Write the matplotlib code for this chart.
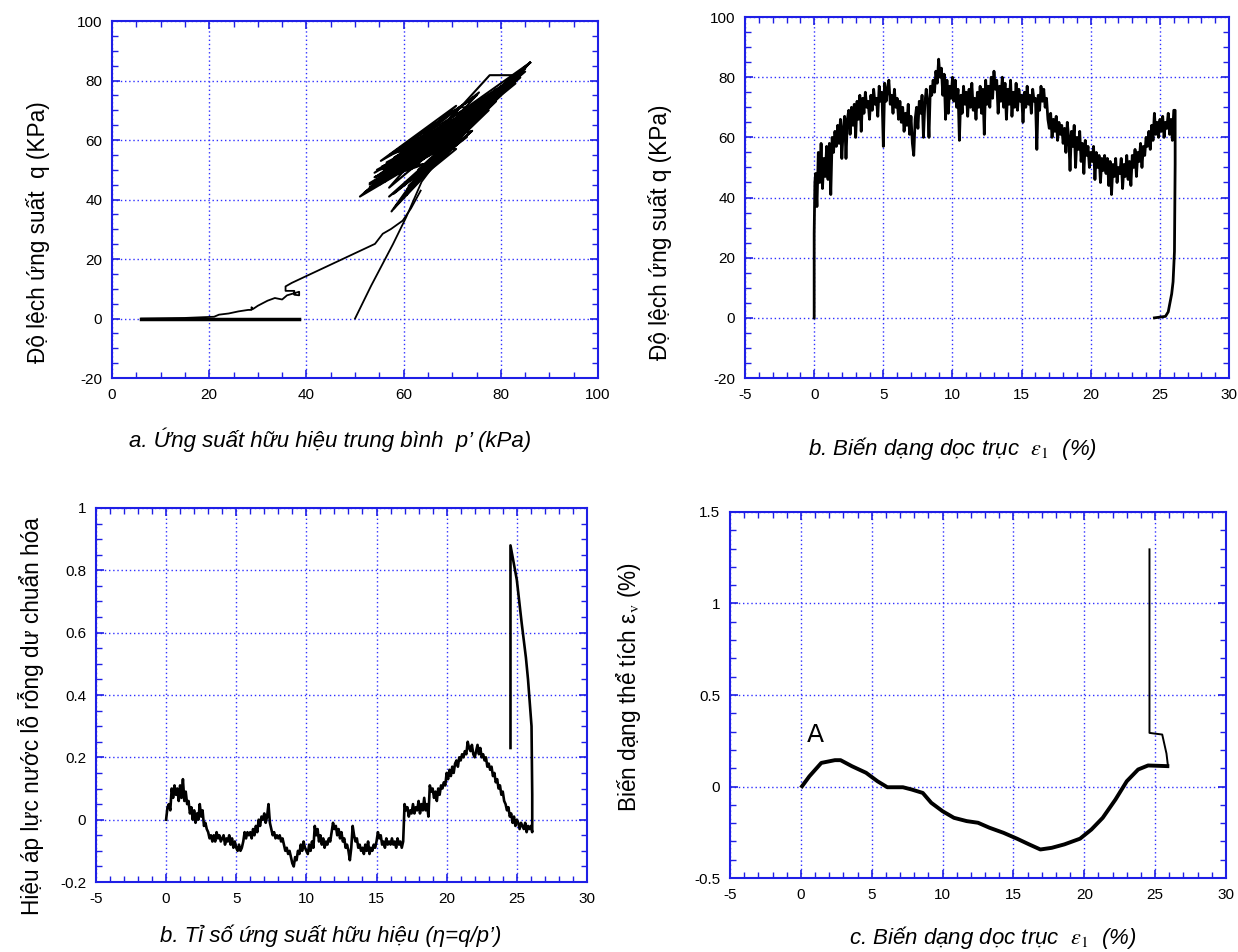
"""
Triaxial test results: stress path, deviator stress, pore pressure ratio
and volumetric strain against axial strain (values read off the figure).
"""

import numpy as np
import matplotlib.pyplot as plt
from matplotlib.ticker import MultipleLocator, FormatStrFormatter

plt.rcParams["font.family"] = ["Liberation Sans", "DejaVu Sans"]
plt.rcParams["axes.unicode_minus"] = False
plt.rcParams["mathtext.fontset"] = "stix"

FRAME_BLUE = "#1f1fe6"
GRID_BLUE = "#3030ff"

# ---- panel a: stress path q - p'
p_consol = [6.0, 38.5]
q_consol = [0.0, 0.0]

p_path = [6.0, 15.0, 21.0, 22.0, 24.0, 26.0, 28.0, 28.7, 28.7, 29.0, 30.0,
          32.0, 33.5, 35.0, 36.0, 38.5, 38.5, 37.5, 37.5, 35.7, 35.7, 37.0,
          54.1, 55.7, 57.4, 59.8, 61.5, 63.5]
q_path = [0.0, 0.2, 0.6, 1.3, 1.7, 2.4, 2.9, 2.9, 3.8, 3.2, 4.3,
          6.0, 6.9, 6.4, 7.8, 9.0, 7.8, 8.0, 9.3, 9.3, 10.8, 12.0,
          25.1, 28.5, 30.1, 32.9, 37.0, 43.0]

p_load = [50.0, 53.3, 57.8, 60.5, 63.7, 66.0]
q_load = [0.0, 11.0, 25.0, 34.0, 46.0, 51.0]

# cyclic part, first series of loops
p_cyc = [66.0, 72.0, 60.5, 76.0, 56.0, 80.0, 62.0, 84.0, 70.0, 86.0, 66.0,
         74.0, 58.5, 78.0, 55.0, 71.0, 52.0, 69.0, 57.5, 81.0, 70.0,
         77.7, 82.5, 73.5, 58.0, 67.0, 54.5, 75.0, 60.0, 82.5, 67.5,
         79.0, 57.0, 71.5, 74.5, 63.5, 51.0, 65.5, 56.5, 76.5, 61.0,
         85.0, 72.5, 58.0, 80.5, 68.5, 57.5, 64.5, 53.0, 70.0, 59.0,
         83.0, 74.0, 55.5, 73.0, 60.5, 68.0, 56.0, 79.5, 62.5, 77.0,
         65.0, 84.5, 71.0, 54.0, 66.5, 59.5, 81.5, 69.5, 86.0]
q_cyc = [51.0, 63.5, 50.0, 70.5, 46.0, 76.0, 52.0, 82.0, 61.0, 86.0, 58.5,
         66.5, 49.5, 73.5, 48.5, 64.0, 42.5, 59.0, 53.0, 77.0, 68.0,
         81.8, 81.8, 68.0, 37.0, 52.5, 50.0, 68.0, 54.5, 79.0, 60.5,
         74.0, 44.0, 71.0, 71.0, 58.5, 41.0, 55.0, 52.5, 70.0, 51.5,
         84.0, 64.5, 55.5, 78.5, 58.5, 36.0, 52.0, 45.5, 62.5, 53.0,
         80.5, 67.0, 51.0, 65.5, 41.5, 56.5, 49.5, 75.0, 57.0, 71.0,
         56.0, 83.0, 62.0, 47.5, 57.5, 55.5, 78.0, 62.5, 86.0]

# cyclic part, second series of loops
p_cyc2 = [86.0, 60.0, 82.0, 58.0, 84.0, 62.0, 79.0, 56.0, 76.0, 54.0, 81.0,
          60.0, 85.0, 64.0, 78.0, 57.0, 83.0, 61.0, 80.0, 59.0, 75.0, 53.0,
          77.0, 62.0, 84.0, 66.0, 80.0, 57.0, 74.0, 55.0, 72.0, 58.0, 82.0,
          63.0, 78.0, 56.0, 85.0, 67.0, 81.0, 60.0, 76.0, 59.0, 83.0, 65.0,
          79.0, 58.0, 73.0, 54.0, 86.0]
q_cyc2 = [86.0, 50.0, 79.0, 54.0, 81.0, 51.0, 76.0, 50.0, 72.0, 46.0, 77.0,
          55.0, 83.0, 54.0, 75.0, 47.0, 80.0, 56.0, 78.0, 49.0, 70.0, 44.0,
          73.0, 57.0, 82.0, 56.0, 75.0, 51.0, 68.0, 45.0, 66.0, 53.0, 80.0,
          53.0, 72.0, 48.0, 84.0, 60.0, 78.0, 51.0, 71.0, 56.0, 79.0, 55.0,
          77.0, 48.0, 67.0, 49.0, 86.0]

# cyclic part, third series (fills the lower side of the band)
p_cyc3 = [86.0, 64.0, 80.9, 60.7, 77.5, 58.0, 74.1, 62.0, 84.9, 66.0, 78.0,
          59.0, 75.0, 56.0, 72.0, 62.0, 81.0, 65.0, 70.8, 64.0, 74.0, 60.7,
          75.0, 57.3, 67.4, 55.3, 70.8, 64.0, 75.5, 65.0, 84.0, 61.0, 79.0,
          57.0, 73.0, 63.0, 82.0, 60.0, 76.0, 53.0, 69.0, 58.0, 80.0, 66.0,
          86.0]
q_cyc3 = [86.0, 48.0, 76.6, 43.5, 70.0, 42.0, 63.1, 46.0, 84.5, 51.0, 74.0,
          51.0, 70.0, 48.0, 66.0, 54.0, 78.0, 57.0, 57.0, 48.0, 63.0, 58.6,
          75.0, 55.2, 64.2, 53.0, 71.5, 61.4, 76.0, 57.0, 82.0, 44.5, 73.0,
          41.0, 61.0, 50.0, 79.0, 52.0, 72.0, 45.0, 58.0, 50.0, 77.0, 56.0,
          86.0]

# ---- panel b: deviator stress q vs axial strain (0.1 % steps from 0.1 to 26.0)
eps_b_start = [0.0, 0.0, 0.05]
q_b_start = [0.0, 28.0, 45.0]
q_dev = [
    48, 37, 55, 45, 58, 43, 53, 47, 57, 46,
    58, 41, 60, 55, 62, 57, 64, 58, 66, 53,
    63, 67, 53, 66, 69, 61, 70, 64, 71, 60,
    72, 66, 74, 62, 73, 68, 75, 70, 72, 66,
    74, 69, 76, 71, 73, 67, 77, 72, 75, 57,
    78, 72, 76, 79, 71, 74, 68, 76, 70, 73,
    66, 72, 65, 70, 62, 68, 64, 71, 61, 67,
    58, 54, 66, 70, 63, 72, 68, 74, 60, 71,
    76, 72, 60, 77, 74, 79, 75, 82, 78, 86,
    80, 83, 74, 81, 66, 79, 68, 77, 73, 80,
    72, 79, 70, 76, 59, 74, 68, 77, 71, 75,
    67, 76, 70, 78, 69, 73, 66, 75, 70, 77,
    68, 76, 61, 79, 71, 77, 70, 80, 73, 82,
    76, 79, 68, 77, 72, 80, 70, 78, 66, 76,
    71, 79, 67, 75, 70, 78, 69, 76, 72, 74,
    65, 75, 70, 77, 71, 74, 68, 76, 72, 73,
    56, 74, 69, 77, 72, 76, 70, 73, 66, 63,
    68, 60, 66, 62, 67, 59, 65, 61, 64, 58,
    63, 55, 65, 60, 49, 62, 57, 64, 50, 60,
    56, 62, 52, 58, 48, 59, 54, 57, 50, 55,
    52, 57, 46, 55, 50, 54, 45, 53, 49, 54,
    48, 53, 44, 52, 41, 51, 47, 53, 45, 50,
    48, 53, 43, 51, 47, 54, 46, 52, 44, 54,
    50, 56, 47, 55, 52, 58, 50, 57, 54, 60,
    57, 62, 56, 64, 59, 68, 61, 65, 60, 66,
    62, 67, 60, 65, 63, 68, 61, 66, 59, 69,
]
eps_b_end = [26.1, 26.1, 26.05, 25.95, 25.85, 25.6, 25.4, 24.6]
q_b_end = [69.0, 51.0, 22.0, 12.0, 8.0, 2.0, 0.5, 0.0]

# ---- panel c: normalised excess pore pressure (0.1 % steps from 0.0 to 26.1)
ru = [
    0.00, 0.04, 0.05, 0.03, 0.10, 0.07, 0.11, 0.08, 0.10, 0.06,
    0.11, 0.07, 0.13, 0.06, 0.09, 0.05, 0.06, 0.02, 0.04, 0.00,
    0.03, -0.01, 0.02, 0.00, 0.05, 0.01, 0.03, -0.02, -0.01, -0.03,
    -0.04, -0.06, -0.05, -0.07, -0.05, -0.07, -0.04, -0.06, -0.05, -0.07,
    -0.06, -0.05, -0.08, -0.06, -0.07, -0.05, -0.08, -0.06, -0.09, -0.07,
    -0.09, -0.10, -0.08, -0.10, -0.09, -0.07, -0.04, -0.06, -0.04, -0.05,
    -0.04, -0.06, -0.03, -0.05, -0.02, -0.04, 0.00, -0.02, 0.01, 0.00,
    0.02, -0.01, 0.01, 0.05, -0.01, -0.03, -0.05, -0.04, -0.06, -0.05,
    -0.06, -0.05, -0.07, -0.06, -0.08, -0.10, -0.09, -0.11, -0.10, -0.12,
    -0.14, -0.15, -0.12, -0.13, -0.10, -0.11, -0.08, -0.10, -0.07, -0.09,
    -0.10, -0.11, -0.08, -0.10, -0.07, -0.09, -0.02, -0.05, -0.03, -0.07,
    -0.05, -0.08, -0.06, -0.09, -0.07, -0.08, -0.06, -0.07, -0.04, -0.01,
    -0.03, -0.02, -0.05, -0.03, -0.06, -0.04, -0.07, -0.06, -0.09, -0.08,
    -0.10, -0.13, -0.09, -0.02, -0.05, -0.07, -0.06, -0.09, -0.08, -0.10,
    -0.09, -0.11, -0.08, -0.10, -0.07, -0.11, -0.09, -0.10, -0.08, -0.09,
    -0.07, -0.04, -0.06, -0.05, -0.08, -0.07, -0.09, -0.06, -0.08, -0.07,
    -0.08, -0.06, -0.08, -0.07, -0.09, -0.06, -0.08, -0.07, -0.09, -0.07,
    0.05, 0.03, 0.04, 0.01, 0.03, 0.02, 0.05, 0.02, 0.04, 0.03,
    0.06, 0.02, 0.05, 0.03, 0.07, 0.03, 0.05, 0.01, 0.11, 0.09,
    0.10, 0.07, 0.09, 0.06, 0.10, 0.08, 0.11, 0.10, 0.12, 0.11,
    0.15, 0.13, 0.16, 0.14, 0.17, 0.15, 0.18, 0.19, 0.17, 0.20,
    0.19, 0.21, 0.20, 0.22, 0.21, 0.25, 0.23, 0.22, 0.24, 0.21,
    0.20, 0.22, 0.24, 0.21, 0.23, 0.20, 0.21, 0.19, 0.20, 0.17,
    0.18, 0.16, 0.17, 0.14, 0.15, 0.12, 0.13, 0.10, 0.11, 0.08,
    0.09, 0.06, 0.05, 0.03, 0.04, 0.01, 0.02, -0.01, 0.01, -0.02,
    0.00, -0.01, -0.03, -0.01, -0.02, -0.03, -0.01, -0.04, -0.02, -0.03,
    -0.02, -0.04,
]
eps_c_end = [26.1, 26.05, 25.95, 25.8, 25.65, 25.35, 25.0, 24.55, 24.55]
ru_end = [0.08, 0.30, 0.36, 0.45, 0.52, 0.63, 0.77, 0.88, 0.23]

# ---- panel d: volumetric strain
eps_d = [0.0, 0.6, 1.44, 2.4, 2.8, 3.6, 4.6, 5.4, 6.1, 7.2, 7.8, 8.6, 9.2,
         10.0, 10.8, 11.7, 12.5, 13.3, 14.3, 15.25, 16.1, 16.9, 17.7, 18.6,
         19.7, 20.5, 21.3, 22.2, 23.0, 23.8, 24.5, 26.0]
ev = [-0.007, 0.056, 0.129, 0.144, 0.144, 0.111, 0.075, 0.029, -0.004,
      -0.004, -0.016, -0.035, -0.089, -0.135, -0.171, -0.189, -0.198,
      -0.225, -0.253, -0.285, -0.316, -0.344, -0.335, -0.316, -0.285,
      -0.235, -0.171, -0.071, 0.029, 0.093, 0.115, 0.111]
eps_d_end = [25.9, 25.8, 25.5, 24.6, 24.6]
ev_end = [0.115, 0.18, 0.284, 0.293, 1.296]


def style_axes(ax, xlim, ylim, xmaj, xmin, ymaj, ymin):
    ax.set_xlim(*xlim)
    ax.set_ylim(*ylim)
    ax.xaxis.set_major_locator(MultipleLocator(xmaj))
    ax.xaxis.set_minor_locator(MultipleLocator(xmin))
    ax.yaxis.set_major_locator(MultipleLocator(ymaj))
    ax.yaxis.set_minor_locator(MultipleLocator(ymin))
    ax.xaxis.set_major_formatter(FormatStrFormatter("%g"))
    ax.yaxis.set_major_formatter(FormatStrFormatter("%g"))
    ax.grid(True, which="major", color=GRID_BLUE, linestyle=(0, (1, 2)), linewidth=1.0)
    ax.tick_params(which="both", direction="in", top=True, right=True,
                   color=FRAME_BLUE, labelsize=11, pad=7)
    ax.tick_params(which="major", length=6, width=1.2)
    ax.tick_params(which="minor", length=4, width=1.0)
    for sp in ax.spines.values():
        sp.set_color(FRAME_BLUE)
        sp.set_linewidth(1.5)


def main():
    fig = plt.figure(figsize=(12.38, 9.52), dpi=100)
    ylab = dict(fontsize=16.3)

    # a. stress path
    ax = fig.add_axes([0.0905, 0.6029, 0.3926, 0.375])
    ax.plot(p_consol, q_consol, color="black", lw=2.5)
    ax.plot(p_path, q_path, color="black", lw=1.3)
    ax.plot(p_load, q_load, color="black", lw=1.3)
    for px, qy in [(p_cyc, q_cyc), (p_cyc2, q_cyc2), (p_cyc3, q_cyc3)]:
        ax.plot(px, qy, color="black", lw=1.5)
    style_axes(ax, (0, 100), (-20, 100), 20, 5, 20, 5)
    ax.set_ylabel("Độ lệch ứng suất  q (KPa)", **ylab)
    ax.yaxis.set_label_coords(-0.128, 0.41)

    # b. q vs axial strain
    ax = fig.add_axes([0.6018, 0.6029, 0.391, 0.3792])
    eps_b = np.concatenate([eps_b_start, np.round(np.arange(1, 261) * 0.1, 2), eps_b_end])
    q_b = np.concatenate([q_b_start, q_dev, q_b_end])
    ax.plot(eps_b, q_b, color="black", lw=2.0)
    style_axes(ax, (-5, 30), (-20, 100), 5, 1, 20, 5)
    ax.set_ylabel("Độ lệch ứng suất q (KPa)", **ylab)
    ax.yaxis.set_label_coords(-0.151, 0.404)

    # c. pore pressure ratio
    ax = fig.add_axes([0.0775, 0.0735, 0.3966, 0.3929])
    eps_c = np.concatenate([np.round(np.arange(len(ru)) * 0.1, 2), eps_c_end])
    ru_all = np.concatenate([ru, ru_end])
    ax.plot(eps_c, ru_all, color="black", lw=1.9)
    style_axes(ax, (-5, 30), (-0.2, 1.0), 5, 1, 0.2, 0.05)
    ax.set_ylabel("Hiệu áp lực nước lỗ rỗng dư chuẩn hóa", **ylab)
    ax.yaxis.set_label_coords(-0.106, 0.444)

    # d. volumetric strain
    ax = fig.add_axes([0.5897, 0.0777, 0.4006, 0.3845])
    ax.plot(eps_d, ev, color="black", lw=2.8, solid_capstyle="butt")
    ax.plot(eps_d_end, ev_end, color="black", lw=1.4)
    style_axes(ax, (-5, 30), (-0.5, 1.5), 5, 1, 0.5, 0.1)
    ax.set_ylabel("Biến dạng thể tích ε$_{\\rm v}$ (%)", **ylab)
    ax.yaxis.set_label_coords(-0.175, 0.522)
    ax.text(1.0, 0.28, "A", fontsize=18, ha="center", va="center",
            family=["DejaVu Sans"])

    # captions under each panel
    cap = dict(fontsize=16, style="italic", ha="center", va="center")
    fig.text(0.267, 0.538, "a. Ứng suất hữu hiệu trung bình  p’ (kPa)", **cap)
    fig.text(0.769, 0.529, "b. Biến dạng dọc trục  $\\varepsilon_1$  (%)", **cap)
    fig.text(0.267, 0.017, "b. Tỉ số ứng suất hữu hiệu (η=q/p’)", **cap)
    fig.text(0.802, 0.015, "c. Biến dạng dọc trục  $\\varepsilon_1$  (%)", **cap)

    fig.savefig("out.png", dpi=100)


if __name__ == "__main__":
    main()
